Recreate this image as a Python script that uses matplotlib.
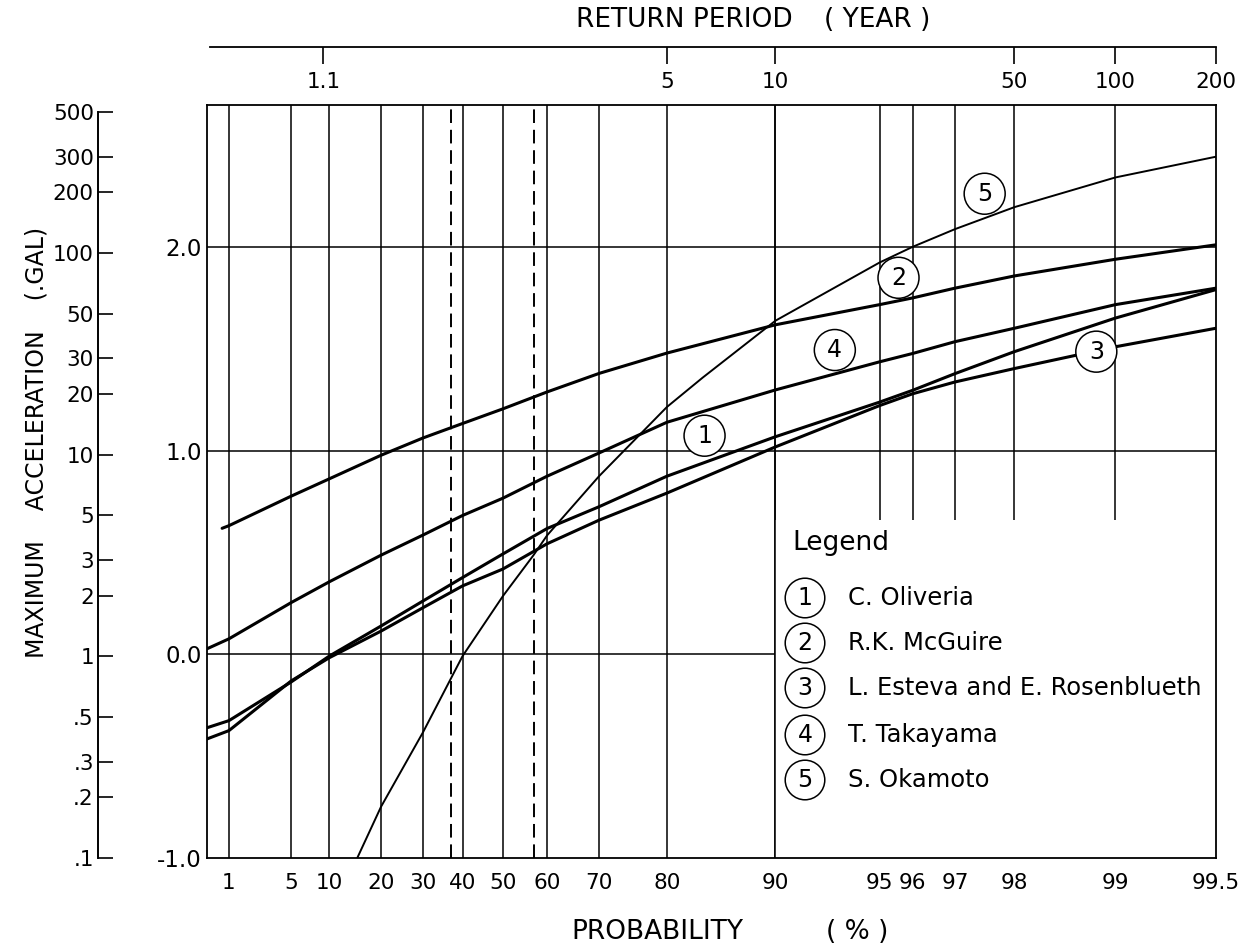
import numpy as np
import matplotlib
matplotlib.use("Agg")
import matplotlib.pyplot as plt
from matplotlib.patches import Rectangle

# ---------------- data (probability in %, value = log10 of acceleration in gal) -------------
p_oliveria = [0.47, 1, 5, 10, 20, 30, 40, 50, 60, 70, 80, 90, 95, 96, 97, 98, 99, 99.5]
v_oliveria = [-0.36, -0.325, -0.135, -0.008, 0.14, 0.263, 0.378, 0.494, 0.619, 0.726, 0.876,
              1.07, 1.24, 1.298, 1.38, 1.488, 1.653, 1.793]

p_mcguire = [0.8, 1, 5, 10, 20, 30, 40, 50, 60, 70, 80, 90, 95, 96, 97, 98, 99, 99.5]
v_mcguire = [0.62, 0.633, 0.778, 0.863, 0.979, 1.064, 1.135, 1.207, 1.29, 1.381, 1.481,
             1.62, 1.719, 1.752, 1.80, 1.86, 1.942, 2.013]

p_esteva = [0.47, 1, 5, 10, 20, 30, 40, 50, 60, 70, 80, 90, 95, 96, 97, 98, 99, 99.5]
v_esteva = [-0.415, -0.374, -0.13, -0.016, 0.115, 0.23, 0.337, 0.42, 0.544, 0.66, 0.793,
            1.02, 1.223, 1.281, 1.339, 1.405, 1.512, 1.603]

p_takayama = [0.47, 1, 5, 10, 20, 30, 40, 50, 60, 70, 80, 90, 95, 96, 97, 98, 99, 99.5]
v_takayama = [0.028, 0.077, 0.255, 0.357, 0.488, 0.587, 0.683, 0.768, 0.876, 0.99, 1.141,
              1.30, 1.438, 1.479, 1.537, 1.603, 1.719, 1.80]

p_okamoto = [15, 20, 30, 40, 50, 57, 60, 70, 80, 84, 90, 95, 96, 97, 98, 99, 99.5]
v_okamoto = [-1.0, -0.748, -0.382, -0.008, 0.287, 0.486, 0.585, 0.876, 1.216, 1.36,
             1.64, 1.926, 2.003, 2.09, 2.198, 2.344, 2.446]

legend_names = ["C. Oliveria", "R.K. McGuire", "L. Esteva and E. Rosenblueth",
                "T. Takayama", "S. Okamoto"]
curve_label_p = [84.2, 95.6, 98.86, 93.25, 97.55]
curve_label_v = [1.075, 1.851, 1.488, 1.496, 2.264]

prob_ticks = [1, 5, 10, 20, 30, 40, 50, 60, 70, 80, 90, 95, 96, 97, 98, 99, 99.5]
prob_ticklabels = ["1", "5", "10", "20", "30", "40", "50", "60", "70", "80", "90",
                   "95", "96", "97", "98", "99", "99.5"]
full_grid_p = [1, 5, 10, 20, 30, 40, 50, 60, 70, 80, 90]
part_grid_p = [95, 96, 97, 98, 99]
dashed_p = [37.0, 57.2]

return_periods = [1.1, 5, 10, 50, 100, 200]
return_labels = ["1.1", "5", "10", "50", "100", "200"]

log_ticks = [-1, 0, 1, 2]
log_ticklabels = ["-1.0", "0.0", "1.0", "2.0"]
gal_ticks = [0.1, 0.2, 0.3, 0.5, 1, 2, 3, 5, 10, 20, 30, 50, 100, 200, 300, 500]
gal_ticklabels = [".1", ".2", ".3", ".5", "1", "2", "3", "5", "10", "20", "30", "50",
                  "100", "200", "300", "500"]

# ---------------- Gumbel probability scale ----------------
def fwd(p):
    p = np.clip(np.asarray(p, dtype=float) / 100.0, 1e-12, 1 - 1e-12)
    return -np.log(-np.log(p))


def inv(g):
    return 100.0 * np.exp(-np.exp(-np.asarray(g, dtype=float)))


W, H = 1256, 948
fig = plt.figure(figsize=(W / 100, H / 100), dpi=100)
fig.patch.set_facecolor("white")
plt.rcParams["font.family"] = ["DejaVu Sans"]

L, R, T, B = 207, 1216, 105, 858
ax = fig.add_axes([L / W, 1 - B / H, (R - L) / W, (B - T) / H])
ax.set_xscale("function", functions=(fwd, inv))
ax.set_xlim(0.47, 99.5)
ax.set_ylim(-1.0, 2.7)

glw = 1.1
for p in full_grid_p + part_grid_p:
    ax.axvline(p, color="black", lw=glw, zorder=1)
for p in dashed_p:
    ax.axvline(p, color="black", lw=1.4, ls=(0, (7, 3.5)), zorder=1)
for v in [0, 1, 2]:
    ax.axhline(v, color="black", lw=glw, zorder=1)

# blank legend area
ax.add_patch(Rectangle((90, -1.0), 99.5 - 90, 0.663 + 1.0, facecolor="white",
                       edgecolor="none", zorder=1.5))
ax.axvline(90, color="black", lw=glw, zorder=1.6)

series = [(p_oliveria, v_oliveria, 2.2), (p_mcguire, v_mcguire, 2.2),
          (p_esteva, v_esteva, 2.2), (p_takayama, v_takayama, 2.2),
          (p_okamoto, v_okamoto, 1.4)]
for (pp, vv, lw) in series:
    ax.plot(pp, vv, color="black", lw=lw, solid_capstyle="round",
            solid_joinstyle="round", zorder=2, clip_on=True)

for i, (pp, vv) in enumerate(zip(curve_label_p, curve_label_v)):
    ax.text(pp, vv, str(i + 1), ha="center", va="center", fontsize=17, zorder=4,
            bbox=dict(boxstyle="circle,pad=0.36", fc="white", ec="black", lw=1.1))

ax.set_xticks(prob_ticks)
ax.set_xticklabels(prob_ticklabels)
ax.xaxis.set_minor_locator(matplotlib.ticker.NullLocator())
ax.set_yticks(log_ticks)
ax.set_yticklabels(log_ticklabels)
ax.tick_params(axis="x", length=0, pad=11, labelsize=15.5)
ax.tick_params(axis="y", length=0, pad=4, labelsize=16.5)
for s in ax.spines.values():
    s.set_linewidth(1.3)
    s.set_zorder(5)

# ---------------- top axis: return period ----------------
axt = fig.add_axes([210 / W, 1 - 47 / H, (R - 210) / W, 0.0001])
axt.set_xscale("function", functions=(fwd, inv))
left_p = inv(fwd(0.47) + 3 / 144.66)
axt.set_xlim(left_p, 99.5)
axt.set_yticks([])
for k in ["left", "right", "top"]:
    axt.spines[k].set_visible(False)
axt.spines["bottom"].set_linewidth(1.3)
axt.set_xticks([100.0 * (1 - 1.0 / t) for t in return_periods])
axt.set_xticklabels(return_labels)
axt.xaxis.set_minor_locator(matplotlib.ticker.NullLocator())
axt.tick_params(axis="x", direction="out", length=12, width=1.2, pad=6, labelsize=15.5)
axt.patch.set_visible(False)

# ---------------- outer left axis: gal ----------------
axl = fig.add_axes([98 / W, 1 - B / H, 0.0001, (B - 112) / H])
axl.set_yscale("log")
axl.set_ylim(0.1, 500)
axl.set_xticks([])
for k in ["right", "top", "bottom"]:
    axl.spines[k].set_visible(False)
axl.spines["left"].set_linewidth(1.4)
axl.set_yticks(gal_ticks)
axl.set_yticklabels(gal_ticklabels)
axl.yaxis.set_minor_locator(matplotlib.ticker.NullLocator())
axl.tick_params(axis="y", direction="in", length=11, width=1.2, pad=3, labelsize=15.5)
axl.patch.set_visible(False)

# ---------------- titles / axis labels ----------------
fig.text(684 / W, 1 - 20 / H, "RETURN PERIOD", ha="center", va="center", fontsize=19)
fig.text(877 / W, 1 - 20 / H, "( YEAR )", ha="center", va="center", fontsize=19)
fig.text(657 / W, 1 - 932 / H, "PROBABILITY", ha="center", va="center", fontsize=19)
fig.text(857 / W, 1 - 932 / H, "( % )", ha="center", va="center", fontsize=19)
fig.text(37 / W, 1 - 442 / H, "MAXIMUM    ACCELERATION    (.GAL)", rotation=90,
         ha="center", va="center", fontsize=17)

# ---------------- legend ----------------
fig.text(792 / W, 1 - 543 / H, "Legend", ha="left", va="center", fontsize=19)
leg_y = [598, 643, 688, 735, 780]
for i, (name, yy) in enumerate(zip(legend_names, leg_y)):
    fig.text(805 / W, 1 - yy / H, str(i + 1), ha="center", va="center", fontsize=17,
             bbox=dict(boxstyle="circle,pad=0.33", fc="white", ec="black", lw=1.1))
    fig.text(848 / W, 1 - yy / H, name, ha="left", va="center", fontsize=17.5)

fig.savefig("out.png", dpi=100, facecolor="white")
